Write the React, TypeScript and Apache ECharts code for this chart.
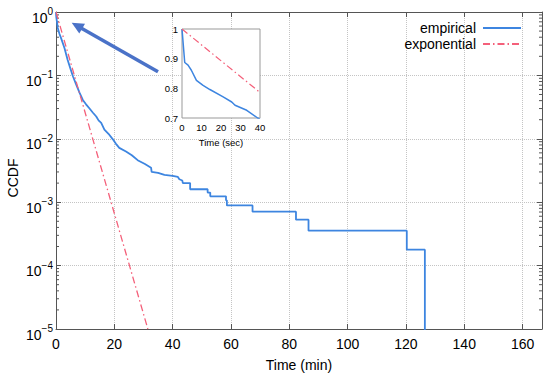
import React, { useEffect, useRef } from 'react';
import * as echarts from 'echarts';

// ---------------- data ----------------
const X_MAX = 166.67; // minutes (10000 s)
const X_INTERVAL = 20;
const Y_MIN = 1e-5;
const Y_MAX = 1;

const LEGEND_NAMES = ['empirical', 'exponential'];

// empirical CCDF, time in minutes
const EMPIRICAL: [number, number][] = [
  [0, 1], [0.05, 0.88], [0.15, 0.8], [0.6, 0.56], [1.2, 0.45], [1.8, 0.38],
  [2.9, 0.27], [4.0, 0.175], [4.9, 0.13], [5.8, 0.097], [6.9, 0.072],
  [8.1, 0.053], [9.2, 0.041], [10.3, 0.035], [11.5, 0.03], [12.6, 0.026],
  [13.8, 0.0225], [14.6, 0.0195], [15.5, 0.0178], [16.6, 0.014], [18.0, 0.012],
  [19.5, 0.0098], [20.5, 0.0084], [21.7, 0.0072], [24.0, 0.0063], [26.0, 0.0055],
  [28.0, 0.0046], [30.5, 0.004], [32.6, 0.0035], [32.8, 0.003], [35.0, 0.0029],
  [37.2, 0.0027], [40.0, 0.0026], [41.8, 0.0025], [42.3, 0.0023], [43.3, 0.0022],
  [43.5, 0.002], [46.0, 0.002], [46.0, 0.0016], [52.0, 0.0016], [52.0, 0.00142],
  [52.9, 0.00142], [52.9, 0.00124], [58.3, 0.00124], [58.3, 0.00107], [58.6, 0.00107],
  [58.6, 0.00089], [67.4, 0.00089], [67.4, 0.00071], [82.3, 0.00071], [82.3, 0.00053],
  [86.6, 0.00053], [86.6, 0.000356], [120.3, 0.000356], [120.3, 0.000178],
  [126.5, 0.000178], [126.5, 1e-7],
];

// exponential fit, time in minutes
const EXPONENTIAL: [number, number][] = [[0, 1], [31.5, 1e-5]];

// inset, time in seconds
const INSET_EMPIRICAL: [number, number][] = [
  [0, 1], [1.4, 0.887], [3.1, 0.878], [4.8, 0.861], [7.4, 0.827], [10.8, 0.81],
  [14.3, 0.796], [21.1, 0.771], [25.5, 0.754], [27.2, 0.743], [33.2, 0.726],
  [38.8, 0.7], [40, 0.695],
];
const INSET_EXPONENTIAL: [number, number][] = [[0, 1], [40, 0.786]];

const LOG_DECADES = [1e-5, 1e-4, 1e-3, 1e-2, 1e-1];
const MINOR_MANTISSAS = [2, 3, 4, 5, 6, 7, 8, 9];
const MINOR_TICKS = LOG_DECADES.flatMap((d) => MINOR_MANTISSAS.map((m) => m * d));

// ---------------- styles ----------------
const FONT = '"Liberation Sans", Arial, Helvetica, sans-serif';
const AXIS = '#555';
const BLUE = '#3d85e0';
const RED = '#f4607a';
const ARROW = '#4a72c8';
const DASHDOT = [7, 3, 1.5, 3];

export default function App() {
  const ref = useRef<HTMLDivElement>(null);

  useEffect(() => {
    if (!ref.current) return;
    const chart = echarts.init(ref.current, null, { renderer: 'svg' });

    const tickInside = { show: true, inside: true, length: 5, lineStyle: { color: AXIS } };
    const axisLine = { show: true, onZero: false, lineStyle: { color: AXIS, width: 1 } };
    const split = { show: true, lineStyle: { type: 'dotted', color: '#c4c4c4', width: 1 } };

    const option: any = {
      animation: false,
      textStyle: { fontFamily: FONT },
      grid: [
        { left: 56, right: 8, top: 12, bottom: 48, show: false },
        {
          left: 182, top: 29, right: 290, bottom: 259, show: true,
          backgroundColor: '#fff', borderColor: '#999', borderWidth: 1, z: 10,
        },
      ],
      legend: {
        data: LEGEND_NAMES,
        orient: 'vertical',
        right: 23,
        top: 16,
        align: 'right',
        itemWidth: 38,
        itemHeight: 14,
        itemGap: 2,
        itemStyle: { opacity: 0 },
        textStyle: { fontSize: 14, lineHeight: 14, color: '#000', fontFamily: FONT, padding: [0, 2, 0, 0] },
        z: 20,
      },
      xAxis: [
        {
          type: 'value', gridIndex: 0, min: 0, max: X_MAX, interval: X_INTERVAL, position: 'bottom',
          axisLine, axisTick: tickInside,
          axisLabel: { color: '#000', fontSize: 14, margin: 8, showMaxLabel: false, fontFamily: FONT },
          splitLine: split,
          name: 'Time (min)', nameLocation: 'middle', nameGap: 29,
          nameTextStyle: { color: '#000', fontSize: 14, fontFamily: FONT },
        },
        {
          type: 'value', gridIndex: 0, min: 0, max: X_MAX, interval: X_INTERVAL, position: 'top',
          axisLine, axisTick: tickInside, axisLabel: { show: false }, splitLine: { show: false },
        },
        {
          type: 'value', gridIndex: 1, min: 0, max: 40, interval: 10, z: 11,
          axisLine: { show: false }, axisTick: { show: false },
          axisLabel: { color: '#000', fontSize: 9.5, margin: 4, fontFamily: FONT },
          splitLine: { show: false },
          name: 'Time (sec)', nameLocation: 'middle', nameGap: 19,
          nameTextStyle: { color: '#000', fontSize: 9.5, fontFamily: FONT },
        },
      ],
      yAxis: [
        {
          type: 'log', logBase: 10, gridIndex: 0, min: Y_MIN, max: Y_MAX, position: 'left',
          axisLine, axisTick: tickInside,
          axisLabel: {
            margin: 3,
            padding: [7, 0, 0, 0],
            formatter: (v: number) => {
              const e = Math.round(Math.log10(v));
              return `{b|10}{s|${e < 0 ? '\u2212' + -e : e}}`;
            },
            rich: {
              b: { fontSize: 14, lineHeight: 18, verticalAlign: 'bottom', color: '#000', fontFamily: FONT },
              s: { fontSize: 10, lineHeight: 10, verticalAlign: 'top', color: '#000', fontFamily: FONT },
            },
          },
          splitLine: split,
        },
        {
          type: 'log', logBase: 10, gridIndex: 0, min: Y_MIN, max: Y_MAX, position: 'right',
          axisLine, axisTick: tickInside, axisLabel: { show: false }, splitLine: { show: false },
        },
        {
          type: 'value', gridIndex: 1, min: 0.7, max: 1, interval: 0.1, z: 11,
          axisLine: { show: false }, axisTick: { show: false },
          axisLabel: { color: '#000', fontSize: 9.5, margin: 4, fontFamily: FONT },
          splitLine: { show: false },
        },
      ],
      series: [
        {
          name: 'minor ticks', type: 'custom', xAxisIndex: 0, yAxisIndex: 0, silent: true, z: 3,
          data: MINOR_TICKS.map((v) => [0, v]),
          encode: { x: 0, y: 1 },
          renderItem: (_p: any, api: any) => {
            const v = api.value(1);
            const a = api.coord([0, v]);
            const b = api.coord([X_MAX, v]);
            return {
              type: 'group',
              children: [
                { type: 'line', shape: { x1: a[0], y1: a[1], x2: a[0] + 3, y2: a[1] }, style: { stroke: AXIS, lineWidth: 1 } },
                { type: 'line', shape: { x1: b[0] - 3, y1: b[1], x2: b[0], y2: b[1] }, style: { stroke: AXIS, lineWidth: 1 } },
              ],
            };
          },
        },
        {
          name: LEGEND_NAMES[0], type: 'line', xAxisIndex: 0, yAxisIndex: 0,
          data: EMPIRICAL, symbol: 'none', showSymbol: false, clip: true,
          lineStyle: { color: BLUE, width: 1.8 }, itemStyle: { color: BLUE }, z: 4,
        },
        {
          name: LEGEND_NAMES[1], type: 'line', xAxisIndex: 0, yAxisIndex: 0,
          data: EXPONENTIAL, symbol: 'none', showSymbol: false, clip: true,
          lineStyle: { color: RED, width: 1.3, type: DASHDOT }, itemStyle: { color: RED }, z: 4,
        },
        {
          name: 'inset-empirical', type: 'line', xAxisIndex: 2, yAxisIndex: 2,
          data: INSET_EMPIRICAL, symbol: 'none', showSymbol: false, clip: true,
          lineStyle: { color: BLUE, width: 1.5 }, z: 12,
        },
        {
          name: 'inset-exponential', type: 'line', xAxisIndex: 2, yAxisIndex: 2,
          data: INSET_EXPONENTIAL, symbol: 'none', showSymbol: false, clip: true,
          lineStyle: { color: RED, width: 1.2, type: DASHDOT }, z: 12,
        },
      ],
      graphic: [
        {
          type: 'line', z: 30,
          shape: { x1: 158, y1: 71.7, x2: 81, y2: 28 },
          style: { stroke: ARROW, lineWidth: 3.5 },
        },
        {
          type: 'polygon', z: 30,
          shape: { points: [[71.7, 22.7], [85, 23.8], [79.3, 33.6]] },
          style: { fill: ARROW },
        },
        {
          type: 'text', x: 12.5, y: 178, rotation: Math.PI / 2, z: 30,
          style: { text: 'CCDF', fontSize: 14, fontFamily: FONT, fill: '#000', align: 'center', verticalAlign: 'middle' },
        },
      ],
    };

    chart.setOption(option);
    return () => chart.dispose();
  }, []);

  return <div ref={ref} style={{ position: 'fixed', left: 0, top: 0, width: 550, height: 377, background: '#fff' }} />;
}
